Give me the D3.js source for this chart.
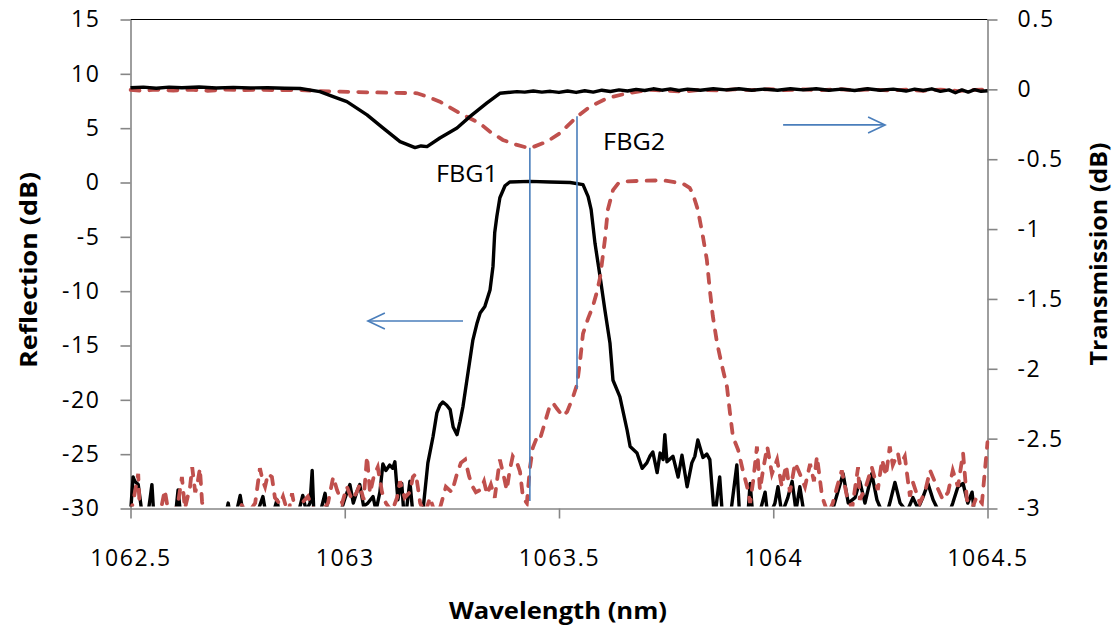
<!DOCTYPE html>
<html>
<head>
<meta charset="utf-8">
<script src="https://cdn.jsdelivr.net/npm/d3@7"></script>
<style>
  body { margin: 0; background: #fff; }
  text { font-family: "Open Sans", sans-serif; }
</style>
</head>
<body>
<script>
// Reflection of FBG1 (left axis, dB) as [wavelength nm, dB]
const fbg1Reflection = [
  [1062.500, -30.5], [1062.506, -27.1], [1062.510, -27.5], [1062.518, -27.8], [1062.527, -30.5],
  [1062.539, -31], [1062.546, -29], [1062.550, -27.8], [1062.555, -31], [1062.580, -30.5],
  [1062.604, -31], [1062.611, -28.3], [1062.618, -31], [1062.662, -32], [1062.720, -31],
  [1062.728, -29.5], [1062.734, -31], [1062.748, -30.2], [1062.756, -28.8], [1062.763, -30.5],
  [1062.791, -31], [1062.802, -29.7], [1062.809, -28.9], [1062.816, -30.5], [1062.834, -30.3],
  [1062.842, -29.2], [1062.849, -31], [1062.891, -30.5], [1062.902, -28.8], [1062.910, -30.2],
  [1062.919, -29.5], [1062.924, -26.5], [1062.928, -30.5], [1062.942, -30.5], [1062.954, -28.6],
  [1062.961, -30.5], [1062.989, -30.5], [1063.001, -29], [1063.012, -27.8], [1063.020, -29.5],
  [1063.028, -28.5], [1063.035, -27.8], [1063.044, -29.8], [1063.054, -29.5], [1063.066, -28.9],
  [1063.073, -30.2], [1063.082, -28.5], [1063.089, -25.9], [1063.096, -26.5], [1063.105, -26.0],
  [1063.112, -26.3], [1063.117, -25.7], [1063.124, -29.2], [1063.129, -28.0], [1063.133, -27.7],
  [1063.138, -30.5], [1063.145, -29.8], [1063.152, -27.5], [1063.159, -30.5], [1063.171, -31],
  [1063.183, -30], [1063.194, -25.8], [1063.206, -23.4], [1063.215, -21.2], [1063.222, -20.5],
  [1063.229, -20.2], [1063.238, -20.5], [1063.246, -20.9], [1063.253, -22.5], [1063.262, -23.2],
  [1063.269, -22.0], [1063.276, -20.6], [1063.285, -18.2], [1063.299, -14.5], [1063.309, -12.9],
  [1063.316, -12.0], [1063.327, -11.4], [1063.339, -9.9], [1063.346, -7.7], [1063.350, -4.6],
  [1063.355, -3.1], [1063.362, -1.4], [1063.374, -0.3], [1063.385, 0.05], [1063.432, 0.1],
  [1063.479, 0.05], [1063.526, 0.0], [1063.556, -0.2], [1063.568, -1.3], [1063.575, -2.5],
  [1063.584, -5.6], [1063.596, -8.7], [1063.607, -11.7], [1063.619, -14.8], [1063.626, -18.2],
  [1063.642, -19.7], [1063.659, -22.8], [1063.666, -24.3], [1063.682, -24.9], [1063.694, -26.3],
  [1063.705, -25.8], [1063.712, -25.2], [1063.719, -24.8], [1063.729, -26.7], [1063.736, -24.9],
  [1063.743, -25.5], [1063.747, -23.2], [1063.752, -25.7], [1063.766, -25.2], [1063.778, -27.1],
  [1063.787, -25.1], [1063.799, -28.0], [1063.810, -25.8], [1063.817, -25.2], [1063.824, -23.7],
  [1063.836, -25.3], [1063.845, -25.0], [1063.852, -25.5], [1063.863, -31], [1063.875, -27.1],
  [1063.882, -31], [1063.899, -31], [1063.915, -26.0], [1063.922, -31], [1063.941, -30.5],
  [1063.946, -27.7], [1063.953, -31], [1063.969, -30.3], [1063.981, -28.5], [1063.988, -31],
  [1064.004, -29.5], [1064.011, -28.0], [1064.020, -30.5], [1064.034, -29.0], [1064.044, -27.5],
  [1064.053, -30.2], [1064.062, -28.0], [1064.074, -31], [1064.132, -31], [1064.163, -26.8],
  [1064.175, -29.5], [1064.191, -29.0], [1064.202, -27.5], [1064.214, -29.5], [1064.230, -26.8],
  [1064.242, -29.2], [1064.261, -31], [1064.272, -29.5], [1064.284, -27.6], [1064.296, -29.5],
  [1064.312, -30.3], [1064.326, -29.0], [1064.338, -30.0], [1064.349, -29.0], [1064.361, -27.7],
  [1064.373, -29.2], [1064.389, -30.5], [1064.405, -31], [1064.419, -29.5], [1064.431, -28.0],
  [1064.443, -27.7], [1064.454, -29.5], [1064.464, -28.5], [1064.471, -31], [1064.500, -31]
];

// Reflection of FBG2 (left axis, dB)
const fbg2Reflection = [
  [1062.500, -30.5], [1062.508, -29], [1062.518, -26.8], [1062.522, -30.5], [1062.546, -31],
  [1062.569, -30.5], [1062.580, -28.3], [1062.587, -30], [1062.599, -30.5], [1062.611, -29.5],
  [1062.620, -27.1], [1062.627, -30], [1062.639, -28.0], [1062.644, -26.2], [1062.651, -28.5],
  [1062.655, -28], [1062.662, -26.3], [1062.667, -29.4], [1062.674, -31], [1062.697, -31],
  [1062.709, -30.5], [1062.732, -31], [1062.756, -29.5], [1062.774, -30.5], [1062.791, -29.5],
  [1062.802, -26.3], [1062.809, -27.5], [1062.814, -28], [1062.821, -26.8], [1062.830, -27.1],
  [1062.837, -29], [1062.849, -29.6], [1062.856, -28.9], [1062.868, -30.5], [1062.877, -28.6],
  [1062.886, -30.5], [1062.900, -29.5], [1062.914, -28.9], [1062.926, -30], [1062.942, -30.5],
  [1062.961, -29.5], [1062.973, -27.1], [1062.982, -28.3], [1062.994, -29.5], [1063.005, -28],
  [1063.017, -29.2], [1063.028, -28.5], [1063.035, -27.8], [1063.044, -29.2], [1063.052, -25.2],
  [1063.059, -28.6], [1063.068, -27.0], [1063.077, -26.2], [1063.087, -28.5], [1063.096, -29.5],
  [1063.110, -30.3], [1063.122, -29.0], [1063.129, -27.5], [1063.140, -29.0], [1063.152, -28.5],
  [1063.159, -27.1], [1063.166, -26.8], [1063.176, -29.5], [1063.187, -30.5], [1063.199, -29.0],
  [1063.211, -30.5], [1063.222, -30.0], [1063.236, -28.0], [1063.250, -28.5], [1063.262, -26.8],
  [1063.271, -25.8], [1063.281, -25.5], [1063.290, -27.0], [1063.297, -27.9], [1063.306, -28.5],
  [1063.316, -28.3], [1063.325, -27.5], [1063.332, -28.7], [1063.341, -27.8], [1063.350, -29.0],
  [1063.362, -25.5], [1063.371, -27.0], [1063.378, -28.3], [1063.385, -26.5], [1063.392, -25.2],
  [1063.402, -25.8], [1063.409, -26.6], [1063.416, -29.0], [1063.425, -29.5], [1063.432, -26.3],
  [1063.439, -24.4], [1063.448, -23.5], [1063.455, -23.7], [1063.467, -22.1], [1063.479, -20.5],
  [1063.486, -20.3], [1063.495, -20.8], [1063.509, -21.5], [1063.519, -21.1], [1063.533, -19.7],
  [1063.542, -18.6], [1063.549, -16.5], [1063.556, -13.9], [1063.568, -12.5], [1063.579, -11.4],
  [1063.589, -10.0], [1063.596, -8.7], [1063.607, -5.3], [1063.614, -2.5], [1063.626, -0.7],
  [1063.638, -0.1], [1063.654, 0.1], [1063.689, 0.15], [1063.743, 0.2], [1063.789, -0.1],
  [1063.805, -0.5], [1063.812, -1.0], [1063.824, -2.5], [1063.836, -5.0], [1063.845, -7.1],
  [1063.852, -9.9], [1063.859, -12.3], [1063.869, -14.8], [1063.880, -16.8], [1063.892, -18.8],
  [1063.899, -21.2], [1063.906, -23.4], [1063.918, -24.6], [1063.929, -26.5], [1063.941, -28.3],
  [1063.946, -29.5], [1063.953, -27.5], [1063.962, -24.3], [1063.969, -28.3], [1063.976, -26.5],
  [1063.986, -24.3], [1063.997, -26.8], [1064.009, -25.5], [1064.020, -28.0], [1064.030, -26.0],
  [1064.039, -28.5], [1064.051, -25.8], [1064.062, -26.8], [1064.074, -28.0], [1064.086, -25.9],
  [1064.095, -27.5], [1064.102, -25.2], [1064.114, -28.9], [1064.128, -30.5], [1064.139, -29.5],
  [1064.149, -28.0], [1064.160, -26.5], [1064.172, -28.9], [1064.184, -30.0], [1064.198, -26.2],
  [1064.202, -29.2], [1064.216, -28.0], [1064.230, -26.2], [1064.244, -28.3], [1064.254, -25.5],
  [1064.263, -27.0], [1064.272, -24.3], [1064.279, -26.0], [1064.291, -24.9], [1064.296, -26.0],
  [1064.307, -25.2], [1064.319, -28.9], [1064.326, -27.6], [1064.342, -29.5], [1064.354, -28.5],
  [1064.366, -26.5], [1064.382, -28.0], [1064.396, -29.2], [1064.408, -28.5], [1064.419, -26.5],
  [1064.431, -28.0], [1064.443, -24.9], [1064.452, -29.2], [1064.464, -30.0], [1064.475, -28.9],
  [1064.487, -29.5], [1064.500, -23.9]
];

// Transmission of FBG1 (right axis, dB)
const fbg1Transmission = [
  [1062.500, 0.012], [1062.530, 0.016], [1062.560, 0.008], [1062.590, 0.016], [1062.620, 0.012],
  [1062.660, 0.017], [1062.700, 0.010], [1062.740, 0.014], [1062.780, 0.010], [1062.820, 0.012],
  [1062.860, 0.008], [1062.896, 0.006], [1062.942, -0.016], [1062.973, -0.052], [1063.005, -0.088],
  [1063.052, -0.183], [1063.089, -0.276], [1063.129, -0.374], [1063.164, -0.417], [1063.178, -0.405],
  [1063.192, -0.410], [1063.222, -0.348], [1063.262, -0.276], [1063.292, -0.195], [1063.332, -0.097],
  [1063.362, -0.028], [1063.402, -0.016], [1063.420, -0.020], [1063.440, -0.012], [1063.460, -0.020],
  [1063.480, -0.014], [1063.500, -0.022], [1063.520, -0.012], [1063.540, -0.022], [1063.560, -0.010],
  [1063.580, -0.020], [1063.600, -0.006], [1063.620, -0.015], [1063.640, -0.004], [1063.660, -0.012],
  [1063.680, 0.000], [1063.700, -0.008], [1063.720, 0.004], [1063.740, -0.006], [1063.760, 0.003],
  [1063.780, -0.008], [1063.800, 0.002], [1063.830, -0.006], [1063.860, 0.004], [1063.890, -0.004],
  [1063.920, 0.004], [1063.950, -0.006], [1063.980, 0.002], [1064.010, -0.006], [1064.040, 0.004],
  [1064.070, -0.004], [1064.100, 0.004], [1064.130, -0.006], [1064.160, 0.002], [1064.190, -0.008],
  [1064.220, 0.004], [1064.250, -0.006], [1064.280, 0.002], [1064.310, -0.012], [1064.330, 0.002],
  [1064.350, -0.008], [1064.370, 0.004], [1064.390, -0.014], [1064.410, -0.004], [1064.425, -0.024],
  [1064.440, -0.004], [1064.455, -0.020], [1064.470, -0.002], [1064.485, -0.014], [1064.500, -0.010]
];

// Transmission of FBG2 (right axis, dB)
const fbg2Transmission = [
  [1062.500, -0.004], [1062.530, -0.010], [1062.560, -0.002], [1062.600, -0.008], [1062.640, -0.002],
  [1062.680, -0.010], [1062.720, -0.002], [1062.760, -0.006], [1062.800, -0.002], [1062.850, -0.006],
  [1062.896, -0.004], [1062.940, -0.012], [1062.990, -0.016], [1063.052, -0.021], [1063.113, -0.024],
  [1063.169, -0.028], [1063.192, -0.052], [1063.222, -0.088], [1063.269, -0.171], [1063.315, -0.243],
  [1063.339, -0.303], [1063.369, -0.362], [1063.402, -0.398], [1063.432, -0.422], [1063.472, -0.374],
  [1063.502, -0.314], [1063.542, -0.195], [1063.572, -0.124], [1063.612, -0.064], [1063.659, -0.028],
  [1063.712, -0.004], [1063.750, -0.010], [1063.789, -0.016], [1063.829, -0.004], [1063.870, -0.008],
  [1063.910, 0.000], [1063.950, -0.006], [1063.990, 0.002], [1064.030, -0.006], [1064.070, 0.000],
  [1064.110, -0.006], [1064.150, 0.002], [1064.190, -0.006], [1064.230, 0.000], [1064.270, -0.008],
  [1064.310, -0.002], [1064.350, -0.010], [1064.390, -0.002], [1064.430, -0.012], [1064.470, -0.004],
  [1064.500, -0.002]
];

// Axis ticks
const xTicks = [1062.5, 1063, 1063.5, 1064, 1064.5];
const leftTicks = [-30, -25, -20, -15, -10, -5, 0, 5, 10, 15];
const rightTicks = [-3, -2.5, -2, -1.5, -1, -0.5, 0, 0.5];

// Annotations (wavelength, left-axis dB)
const markerLines = [
  { wl: 1063.432, top: 3.2, bottom: -29.3 },
  { wl: 1063.542, top: 6.1, bottom: -19.0 }
];
const arrows = [
  { from: 1063.276, to: 1063.054, level: -12.75 },
  { from: 1064.023, to: 1064.261, level: 5.3 }
];
const labels = [
  { text: "FBG1", wl: 1063.213, level: 0.05 },
  { text: "FBG2", wl: 1063.603, level: 3.0 }
];

const margin = { top: 19.5, right: 125.5, bottom: 122.5, left: 130.5 },
  width = 1113 - margin.left - margin.right,
  height = 631 - margin.top - margin.bottom;

const x = d3.scaleLinear().domain([1062.5, 1064.5]).range([0, width]);
const yL = d3.scaleLinear().domain([-30, 15]).range([height, 0]);
const yR = d3.scaleLinear().domain([-3, 0.5]).range([height, 0]);

const svg = d3.select("body")
  .append("svg")
  .attr("width", 1113)
  .attr("height", 631);

const g = svg.append("g")
  .attr("transform", "translate(" + margin.left + "," + margin.top + ")");

g.append("clipPath").attr("id", "plot")
  .append("rect").attr("x", -2).attr("y", -2).attr("width", width + 4).attr("height", height);

const axisColor = "#868686";

// top border
g.append("line")
  .attr("x1", 0).attr("x2", width).attr("y1", 0).attr("y2", 0)
  .attr("stroke", "#000").attr("stroke-width", 1.2);

function styleAxis(sel) {
  sel.select(".domain").attr("stroke", axisColor).attr("stroke-width", 1.6);
  sel.selectAll(".tick line").attr("stroke", axisColor).attr("stroke-width", 1.6);
  sel.selectAll(".tick text")
    .attr("fill", "#000")
    .style("font-size", "23px")
    .style("letter-spacing", "1.6px");
}

g.append("g")
  .attr("transform", "translate(0," + height + ")")
  .call(d3.axisBottom(x).tickValues(xTicks).tickFormat(String).tickSize(10).tickSizeOuter(0).tickPadding(20))
  .call(styleAxis)
  .call(a => a.selectAll(".tick text").attr("y", 57).attr("dy", "0"));

g.append("g")
  .call(d3.axisLeft(yL).tickValues(leftTicks).tickFormat(String).tickSize(10).tickSizeOuter(0).tickPadding(20))
  .call(styleAxis);

g.append("g")
  .attr("transform", "translate(" + width + ",0)")
  .call(d3.axisRight(yR).tickValues(rightTicks).tickFormat(String).tickSize(10).tickSizeOuter(0).tickPadding(20))
  .call(styleAxis);

// curves
const lineL = d3.line().x(d => x(d[0])).y(d => yL(d[1]));
const lineR = d3.line().x(d => x(d[0])).y(d => yR(d[1]));

const plot = g.append("g").attr("clip-path", "url(#plot)");

plot.append("path").datum(fbg2Transmission)
  .attr("d", lineR).attr("fill", "none")
  .attr("stroke", "#C0504D").attr("stroke-width", 3.8)
  .attr("stroke-dasharray", "9,10").attr("stroke-linecap", "round");

plot.append("path").datum(fbg1Transmission)
  .attr("d", lineR).attr("fill", "none")
  .attr("stroke", "#000").attr("stroke-width", 3.4).attr("stroke-linejoin", "round");

plot.append("path").datum(fbg1Reflection)
  .attr("d", lineL).attr("fill", "none")
  .attr("stroke", "#000").attr("stroke-width", 3.4).attr("stroke-linejoin", "round");

plot.append("path").datum(fbg2Reflection)
  .attr("d", lineL).attr("fill", "none")
  .attr("stroke", "#C0504D").attr("stroke-width", 3.8)
  .attr("stroke-dasharray", "9,10").attr("stroke-linecap", "round");

// annotations
const blue = "#4A7EBB";
g.selectAll(".marker").data(markerLines).enter().append("line")
  .attr("x1", d => x(d.wl)).attr("x2", d => x(d.wl))
  .attr("y1", d => yL(d.top)).attr("y2", d => yL(d.bottom))
  .attr("stroke", blue).attr("stroke-width", 1.6);

arrows.forEach(a => {
  const x0 = x(a.from), x1 = x(a.to), yy = yL(a.level);
  const dir = x1 > x0 ? -1 : 1;
  g.append("line").attr("x1", x0).attr("x2", x1).attr("y1", yy).attr("y2", yy)
    .attr("stroke", blue).attr("stroke-width", 1.6);
  g.append("path")
    .attr("d", "M" + (x1 + dir * 17) + "," + (yy - 8) + "L" + x1 + "," + yy + "L" + (x1 + dir * 17) + "," + (yy + 8))
    .attr("fill", "none").attr("stroke", blue).attr("stroke-width", 1.6);
});

g.selectAll(".lbl").data(labels).enter().append("text")
  .attr("x", d => x(d.wl)).attr("y", d => yL(d.level))
  .attr("textLength", 62).attr("lengthAdjust", "spacingAndGlyphs")
  .style("font-size", "24px").attr("fill", "#000")
  .text(d => d.text);

// axis titles
svg.append("text")
  .attr("x", 558).attr("y", 619)
  .attr("text-anchor", "middle")
  .attr("textLength", 218).attr("lengthAdjust", "spacingAndGlyphs")
  .style("font-size", "23px").style("font-weight", "bold")
  .text("Wavelength (nm)");

svg.append("text")
  .attr("transform", "translate(37,270) rotate(-90)")
  .attr("text-anchor", "middle")
  .attr("textLength", 196).attr("lengthAdjust", "spacingAndGlyphs")
  .style("font-size", "23px").style("font-weight", "bold")
  .text("Reflection (dB)");

svg.append("text")
  .attr("transform", "translate(1107,254) rotate(-90)")
  .attr("text-anchor", "middle")
  .attr("textLength", 223).attr("lengthAdjust", "spacingAndGlyphs")
  .style("font-size", "23px").style("font-weight", "bold")
  .text("Transmission (dB)");
</script>
</body>
</html>
